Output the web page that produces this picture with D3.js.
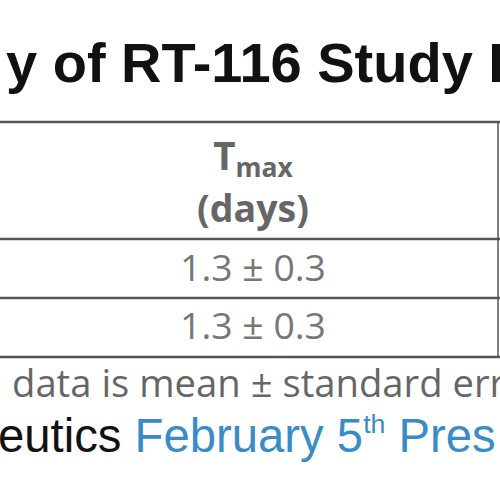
<!DOCTYPE html><html><head><meta charset="utf-8"><script src="https://cdn.jsdelivr.net/npm/d3@7"></script>
<style>body{margin:0;background:#fff}</style></head><body><svg id="c" width="500" height="500"></svg>
<script>
const title = "y of RT-116 Study I";
const header = ["T", "max", "(days)"];
const rows = ["1.3 ± 0.3", "1.3 ± 0.3"];
const footnote = "data is mean ± standard err";
const src1 = "eutics ", src2 = "February 5", sup = "th", src3 = " Pres";
const svg = d3.select("#c");
const y = d3.scaleLinear().domain([0, 1]).range([0, 1]);
function fit(sel, width) {
  const w = sel.node().getBBox().width;
  const k = width / w;
  sel.attr("font-size", (+sel.attr("font-size")) * k);
  sel.selectAll("tspan").each(function(){const t=d3.select(this); if(t.attr("font-size")) t.attr("font-size", +t.attr("font-size")*k); if(t.attr("dy")) t.attr("dy", +t.attr("dy")*k);});
}
const t = svg.append("text").attr("x", 6).attr("y", 82).attr("font-family", "Liberation Sans, Arial").attr("font-weight", "bold").attr("font-size", 40).attr("fill", "#111").text(title);
fit(t, 498);
const lines = [122, 239, 298, 357];
lines.forEach(v => svg.append("line").attr("x1", 0).attr("x2", 500).attr("y1", y(v)).attr("y2", y(v)).attr("stroke", "#555").attr("stroke-width", 2.5));
svg.append("line").attr("x1", 498).attr("x2", 498).attr("y1", 122).attr("y2", 357).attr("stroke", "#555").attr("stroke-width", 1.5);
const h = svg.append("text").attr("x", 253).attr("y", 170).attr("text-anchor", "middle").attr("font-family", "Open Sans").attr("font-weight", "bold").attr("font-size", 32).attr("fill", "#666");
h.append("tspan").attr("font-size", 32).text(header[0]);
h.append("tspan").attr("font-size", 22).attr("dy", 6).text(header[1]);
fit(h, 80);
const d = svg.append("text").attr("x", 253).attr("y", 222).attr("text-anchor", "middle").attr("font-family", "Open Sans").attr("font-weight", "bold").attr("font-size", 28).attr("fill", "#666").text(header[2]);
fit(d, 112);
rows.forEach((r, i) => { const e = svg.append("text").attr("x", 253).attr("y", [281, 339][i]).attr("text-anchor", "middle").attr("font-family", "Open Sans").attr("font-size", 28).attr("fill", "#777").text(r); fit(e, 146); });
const f = svg.append("text").attr("x", 12).attr("y", 397).attr("font-family", "Open Sans").attr("font-size", 26).attr("fill", "#666").text(footnote);
fit(f, 494);
const s = svg.append("text").attr("x", -2).attr("y", 452).attr("font-family", "Liberation Sans, Arial").attr("font-size", 39).attr("fill", "#111");
s.append("tspan").text(src1);
s.append("tspan").attr("fill", "#3a8cc8").text(src2);
s.append("tspan").attr("fill", "#3a8cc8").attr("font-size", 22).attr("dy", -16).text(sup);
s.append("tspan").attr("fill", "#3a8cc8").attr("dy", 16).text(src3);
fit(s, 498);
</script></body></html>
